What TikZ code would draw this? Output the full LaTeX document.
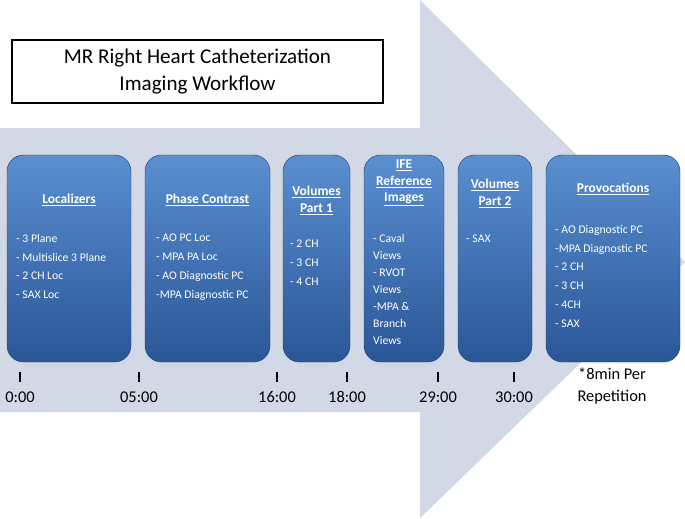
\documentclass[tikz,border=0pt]{standalone}
\usepackage{fontspec}
\setmainfont{Carlito}
\usetikzlibrary{positioning}
\definecolor{arrowgrey}{HTML}{D3D8E6}
\definecolor{boxtop}{HTML}{5A8FD0}
\definecolor{boxbot}{HTML}{2A5697}
\tikzset{
    stagebox/.style = {rectangle, rounded corners=14pt, top color=boxtop, bottom color=boxbot, draw=boxbot!80!black, line width=0.4pt},
    heading/.style = {font=\fontsize{11.5}{14}\selectfont\bfseries, text=white, align=center, anchor=north, inner sep=0pt},
    items/.style = {font=\fontsize{10}{16}\selectfont, text=white, align=left, anchor=north west, inner sep=0pt},
    tick/.style = {font=\fontsize{14}{16}\selectfont},
    stamp/.style = {font=\fontsize{14}{19}\selectfont}
}
\newcommand{\ul}[1]{\underline{#1}}
\begin{document}
\begin{tikzpicture}[x=0.03cm, y=-0.03cm]
    \useasboundingbox (0,0) rectangle (685,518);
    % big arrow in the back
    \fill[arrowgrey] (0,128) -- (420,128) -- (420,0) -- (685,262) -- (420,518) -- (420,412) -- (0,412) -- cycle;
    % title
    \node[draw, line width=1pt, fill=white, minimum width=371*0.03cm, minimum height=63*0.03cm, align=center,
          font=\fontsize{18}{23}\selectfont] (title) at (197.5,71.5) {MR Right Heart Catheterization\\Imaging Workflow};
    % stages
    \foreach \name/\xa/\xb in {loc/7/131, pc/145/270, vola/283/350, ife/364/444, volb/458/532, prov/546/680}{
        \node[stagebox, minimum width=(\xb-\xa)*0.03cm, minimum height=207*0.03cm] (\name) at ({(\xa+\xb)/2},258.5) {};
    }
    \node[heading] (locH) at (69,194) {\ul{Localizers}};
    \node[heading] (pcH) at (207.5,194) {\ul{Phase Contrast}};
    \node[heading] (volaH) at (316.5,186) {\ul{Volumes}\\\ul{Part 1}};
    \node[heading] (ifeH) at (404,160) {\ul{IFE}\\\ul{Reference}\\\ul{Images}};
    \node[heading] (volbH) at (495,179) {\ul{Volumes}\\\ul{Part 2}};
    \node[heading] (provH) at (613,183) {\ul{Provocations}};
    \node[items] (locL) at (16,234) {- 3 Plane\\- Multislice 3 Plane\\- 2 CH Loc\\- SAX Loc};
    \node[items] (pcL) at (156,234) {- AO PC Loc\\- MPA PA Loc\\- AO Diagnostic PC\\-MPA Diagnostic PC};
    \node[items] (volaL) at (290,240) {- 2 CH\\- 3 CH\\- 4 CH};
    \node[items, font=\fontsize{10}{14.5}\selectfont] (ifeL) at (373,234) {- Caval\\Views\\- RVOT\\Views\\-MPA \&\\Branch\\Views};
    \node[items] (volbL) at (466,235) {- SAX};
    \node[items] (provL) at (555,225) {- AO Diagnostic PC\\-MPA Diagnostic PC\\- 2 CH\\- 3 CH\\- 4CH\\- SAX};
    % time line
    \foreach \t/\x in {0:00/20, 05:00/139, 16:00/277, 18:00/347, 29:00/438, 30:00/514}{
        \draw[line width=1pt] (\x,372) -- (\x,382);
        \node[tick] at (\x,397) {\t};
    }
    \node[stamp, align=center] (note) at (612,386) {*8min Per\\Repetition};
\end{tikzpicture}
\end{document}
